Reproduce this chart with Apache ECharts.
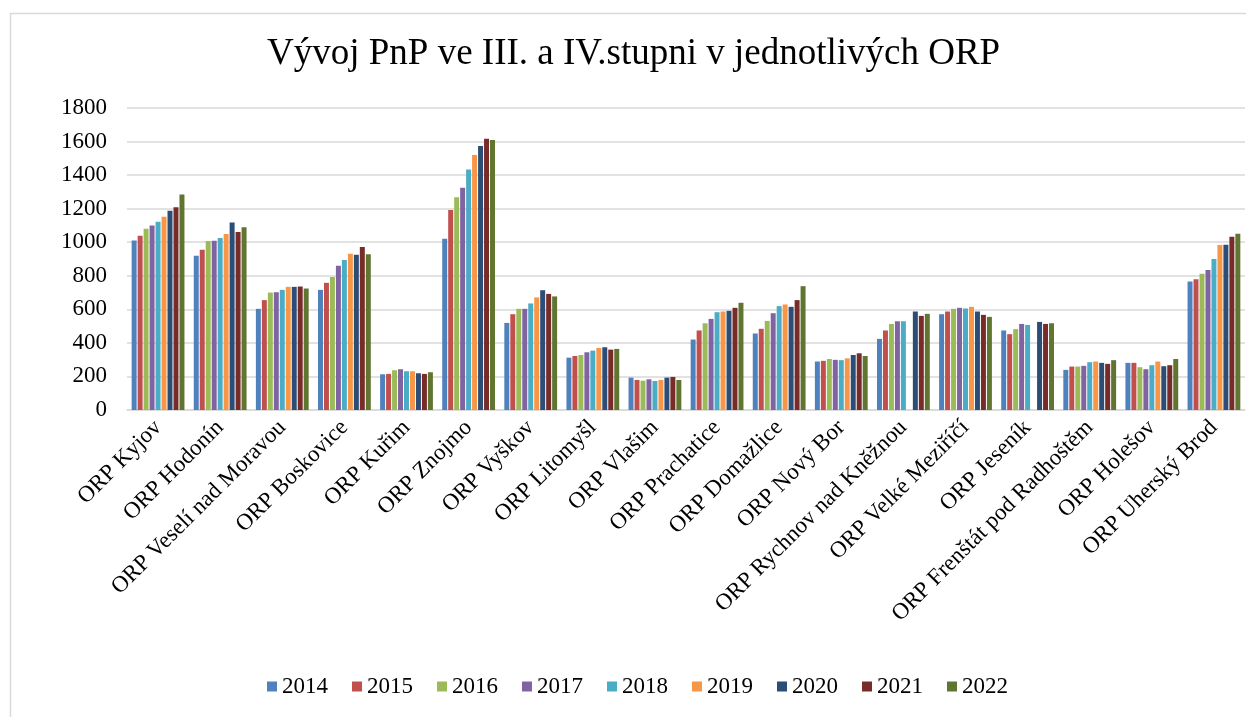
<!DOCTYPE html>
<html><head><meta charset="utf-8">
<script src="https://cdn.jsdelivr.net/npm/echarts@6/dist/echarts.min.js"></script>
<style>html,body{margin:0;padding:0;background:#fff}#c{width:1246px;height:717px}</style>
</head><body><div id="c"></div>
<script>
const categories = ["ORP Kyjov","ORP Hodonín","ORP Veselí nad Moravou","ORP Boskovice","ORP Kuřim","ORP Znojmo","ORP Vyškov","ORP Litomyšl","ORP Vlašim","ORP Prachatice","ORP Domažlice","ORP Nový Bor","ORP Rychnov nad Kněžnou","ORP Velké Meziříčí","ORP Jeseník","ORP Frenštát pod Radhoštěm","ORP Holešov","ORP Uherský Brod"];
const years = ["2014","2015","2016","2017","2018","2019","2020","2021","2022"];
const v2014 = [1011,919,603,716,213,1021,519,312,193,420,456,289,424,571,474,239,281,766];
const v2015 = [1039,955,655,758,215,1192,571,322,179,474,484,293,474,587,452,259,281,780];
const v2016 = [1081,1007,700,792,237,1268,603,328,175,517,531,304,513,603,482,259,255,812];
const v2017 = [1100,1009,702,860,243,1325,603,344,183,543,577,299,529,609,513,263,243,834];
const v2018 = [1122,1025,716,894,231,1433,635,354,173,583,619,297,529,605,507,285,267,900];
const v2019 = [1152,1049,734,931,231,1520,671,370,179,587,629,308,null,615,null,289,289,983];
const v2020 = [1188,1118,734,925,219,1574,714,374,193,591,615,328,587,587,525,281,261,985];
const v2021 = [1208,1061,736,971,215,1616,692,360,197,609,655,338,561,567,513,275,267,1033];
const v2022 = [1284,1089,724,929,225,1610,677,364,179,639,738,322,573,555,517,297,304,1051];
const yTicks = [0,200,400,600,800,1000,1200,1400,1600,1800];
const colors = ["#4F81BD","#C0504D","#9BBB59","#8064A2","#4BACC6","#F79646","#2C4D75","#772C2A","#5F7530"];
const seriesValues = [v2014,v2015,v2016,v2017,v2018,v2019,v2020,v2021,v2022];
const font = '"Liberation Serif","Times New Roman",serif';

const chart = echarts.init(document.getElementById('c'), null, {renderer:'canvas'});
chart.setOption({
  animation: false,
  color: colors,
  textStyle: {fontFamily: font, color: '#000'},
  graphic: [{type:'rect', left: 8, top: 11, shape:{width:1400, height:900}, style:{fill:'none', stroke:'#d9d9d9', lineWidth:1.5}, silent:true, z:-1}],
  title: {text: 'Vývoj PnP ve III. a IV.stupni v jednotlivých ORP', left: 262, top: 31,
    textStyle:{fontFamily: font, fontSize: 37, fontWeight:'normal', color:'#000'}},
  legend: {bottom: 14, left: 262, itemWidth: 10, itemHeight: 10, itemGap: 24, icon: 'rect',
    textStyle:{fontFamily: font, fontSize: 23, color:'#000'}, data: years},
  grid: {left: 127, right: 1, top: 108, bottom: 307},
  xAxis: {type:'category', data: categories,
    axisLine:{lineStyle:{color:'#d9d9d9', width:1.5}}, axisTick:{show:false},
    axisLabel:{rotate:45, interval:0, margin:14, fontFamily: font, fontSize: 23, color:'#000'}},
  yAxis: {type:'value', min: yTicks[0], max: yTicks[yTicks.length-1], interval: 200,
    axisLine:{show:false}, axisTick:{show:false},
    splitLine:{lineStyle:{color:'#d9d9d9', width:1.5}},
    axisLabel:{margin: 20, fontFamily: font, fontSize: 23, color:'#000', formatter: v => String(v)}},
  series: years.map((y,i)=>({name:y, type:'bar', data: seriesValues[i], barGap:'20%', barCategoryGap:'15%'}))
});
</script></body></html>
